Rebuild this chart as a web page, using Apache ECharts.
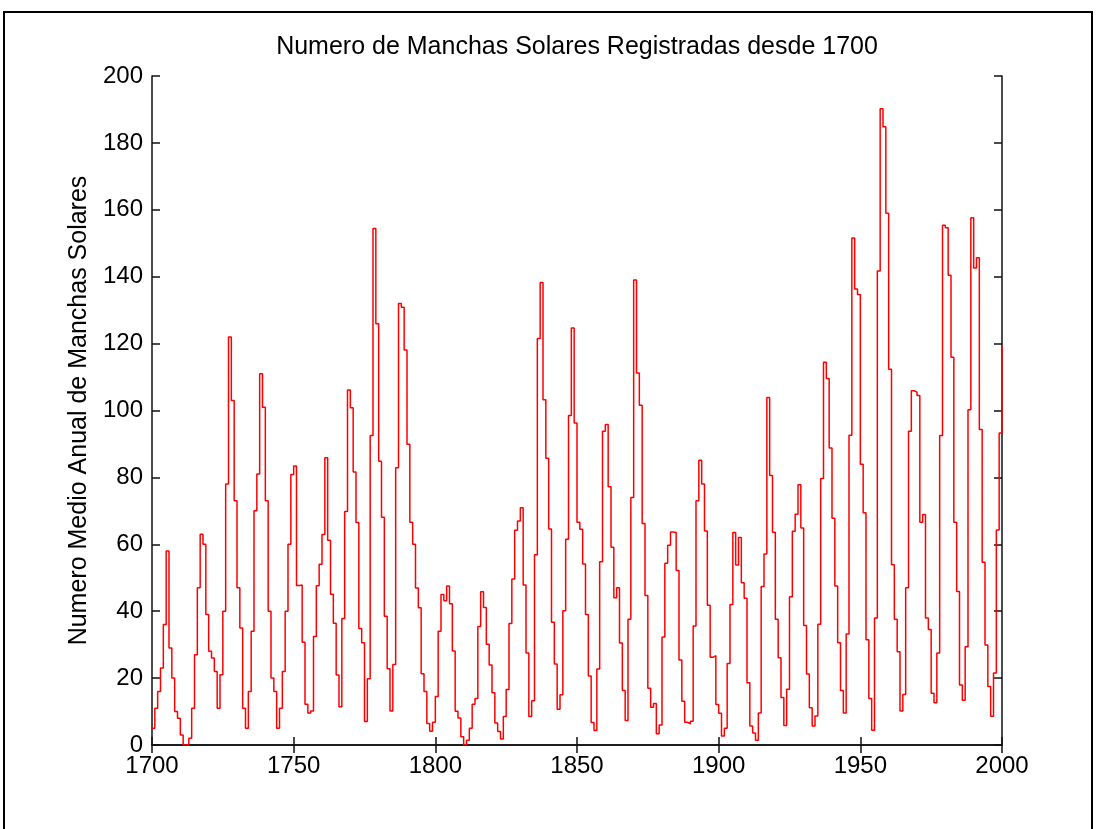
<!DOCTYPE html>
<html>
<head>
<meta charset="utf-8">
<title>Manchas Solares</title>
<script src="https://cdn.jsdelivr.net/npm/echarts@6/dist/echarts.min.js"></script>
<style>
  html, body { margin: 0; padding: 0; background: #fff; }
  #chart { width: 1096px; height: 829px; }
</style>
</head>
<body>
<div id="chart"></div>
<script>
// numero medio anual de manchas solares, un valor por año desde 1700
var startYear = 1700;
var spots1700 = [5, 11, 16, 23, 36, 58, 29, 20, 10, 8, 3, 0, 0, 2, 11, 27, 47, 63, 60, 39,
    28, 26, 22, 11, 21, 40, 78, 122, 103, 73, 47, 35, 11, 5, 16, 34, 70, 81, 111, 101,
    73, 40, 20, 16, 5, 11, 22, 40, 60, 80.9, 83.4, 47.7, 47.8, 30.7, 12.2, 9.6, 10.2, 32.4, 47.6, 54,
    62.9, 85.9, 61.2, 45.1, 36.4, 20.9, 11.4, 37.8, 69.8, 106.1, 100.8, 81.6, 66.5, 34.8, 30.6, 7, 19.8, 92.5, 154.4, 125.9,
    84.8, 68.1, 38.5, 22.8, 10.2, 24.1, 82.9, 132, 130.9, 118.1, 89.9, 66.6, 60, 46.9, 41, 21.3, 16, 6.4, 4.1, 6.8];
var spots1800 = [14.5, 34, 45, 43.1, 47.5, 42.2, 28.1, 10.1, 8.1, 2.5, 0, 1.4, 5, 12.2, 13.9, 35.4, 45.8, 41.1, 30.1, 23.9,
    15.6, 6.6, 4, 1.8, 8.5, 16.6, 36.3, 49.6, 64.2, 67, 70.9, 47.8, 27.5, 8.5, 13.2, 56.9, 121.5, 138.3, 103.2, 85.7,
    64.6, 36.7, 24.2, 10.7, 15, 40.1, 61.5, 98.5, 124.7, 96.3, 66.6, 64.5, 54.1, 39, 20.6, 6.7, 4.3, 22.7, 54.8, 93.8,
    95.8, 77.2, 59.1, 44, 47, 30.5, 16.3, 7.3, 37.6, 74, 139, 111.2, 101.6, 66.2, 44.7, 17, 11.3, 12.4, 3.4, 6,
    32.3, 54.3, 59.7, 63.7, 63.5, 52.2, 25.4, 13.1, 6.8, 6.3, 7.1, 35.6, 73, 85.1, 78, 64, 41.8, 26.2, 26.7, 12.1];
var spots1900 = [9.5, 2.7, 5, 24.4, 42, 63.5, 53.8, 62, 48.5, 43.9, 18.6, 5.7, 3.6, 1.4, 9.6, 47.4, 57.1, 103.9, 80.6, 63.6,
    37.6, 26.1, 14.2, 5.8, 16.7, 44.3, 63.9, 69, 77.8, 64.9, 35.7, 21.2, 11.1, 5.7, 8.7, 36.1, 79.7, 114.4, 109.6, 88.8,
    67.8, 47.5, 30.6, 16.3, 9.6, 33.2, 92.6, 151.6, 136.3, 134.7, 83.9, 69.4, 31.5, 13.9, 4.4, 38, 141.7, 190.2, 184.8, 159,
    112.3, 53.9, 37.6, 27.9, 10.2, 15.1, 47, 93.8, 105.9, 105.5, 104.5, 66.6, 68.9, 38, 34.5, 15.5, 12.6, 27.5, 92.5, 155.4,
    154.6, 140.4, 115.9, 66.6, 45.9, 17.9, 13.4, 29.4, 100.2, 157.6, 142.6, 145.7, 94.3, 54.6, 29.9, 17.5, 8.6, 21.5, 64.3, 93.3,
    119.6];
var xTicks = [1700, 1750, 1800, 1850, 1900, 1950, 2000];
var yTicks = [0, 20, 40, 60, 80, 100, 120, 140, 160, 180, 200];

var spots = spots1700.concat(spots1800, spots1900);
var points = spots.map(function (v, i) { return [startYear + i, v]; });

var chart = echarts.init(document.getElementById('chart'));
var font = 'Liberation Sans, Arial, sans-serif';
var lineStyle = { color: '#111', width: 1.5 };

var xBase = {
    type: 'value',
    min: xTicks[0],
    max: xTicks[xTicks.length - 1],
    interval: 50,
    axisLine: { show: true, lineStyle: lineStyle },
    axisTick: { show: true, inside: true, length: 8, lineStyle: lineStyle },
    splitLine: { show: false }
};
var yBase = {
    type: 'value',
    min: yTicks[0],
    max: yTicks[yTicks.length - 1],
    interval: 20,
    axisLine: { show: true, lineStyle: lineStyle },
    axisTick: { show: true, inside: true, length: 8, lineStyle: lineStyle },
    splitLine: { show: false }
};

var option = {
    backgroundColor: '#fff',
    animation: false,
    title: {
        text: 'Numero de Manchas Solares Registradas desde 1700',
        left: 572,
        textAlign: 'center',
        top: 30,
        textStyle: { fontFamily: font, fontSize: 25, fontWeight: 'normal', color: '#000' }
    },
    graphic: [{
        type: 'rect',
        shape: { x: 4, y: 12, width: 1088, height: 830 },
        style: { fill: 'none', stroke: '#000', lineWidth: 2 },
        silent: true
    }],
    grid: { left: 152, right: 94, top: 76, bottom: 84 },
    xAxis: [
        Object.assign({}, xBase, {
            position: 'bottom',
            axisLabel: {
                show: true, margin: 9, fontFamily: font, fontSize: 24, color: '#000',
                formatter: function (v) { return String(v); }
            }
        }),
        Object.assign({}, xBase, { position: 'top', axisLabel: { show: false } })
    ],
    yAxis: [
        Object.assign({}, yBase, {
            position: 'left',
            name: 'Numero Medio Anual de Manchas Solares',
            nameLocation: 'middle',
            nameRotate: 90,
            nameGap: 60,
            nameTextStyle: { fontFamily: font, fontSize: 25, color: '#000' },
            axisLabel: {
                show: true, margin: 9, fontFamily: font, fontSize: 24, color: '#000',
                formatter: function (v) { return String(v); }
            }
        }),
        Object.assign({}, yBase, { position: 'right', axisLabel: { show: false } })
    ],
    series: [{
        type: 'line',
        step: 'end',
        xAxisIndex: 0,
        yAxisIndex: 0,
        data: points,
        showSymbol: false,
        lineStyle: { color: '#ff0000', width: 1.5 },
        z: 1
    }]
};
chart.setOption(option);
</script>
</body>
</html>
